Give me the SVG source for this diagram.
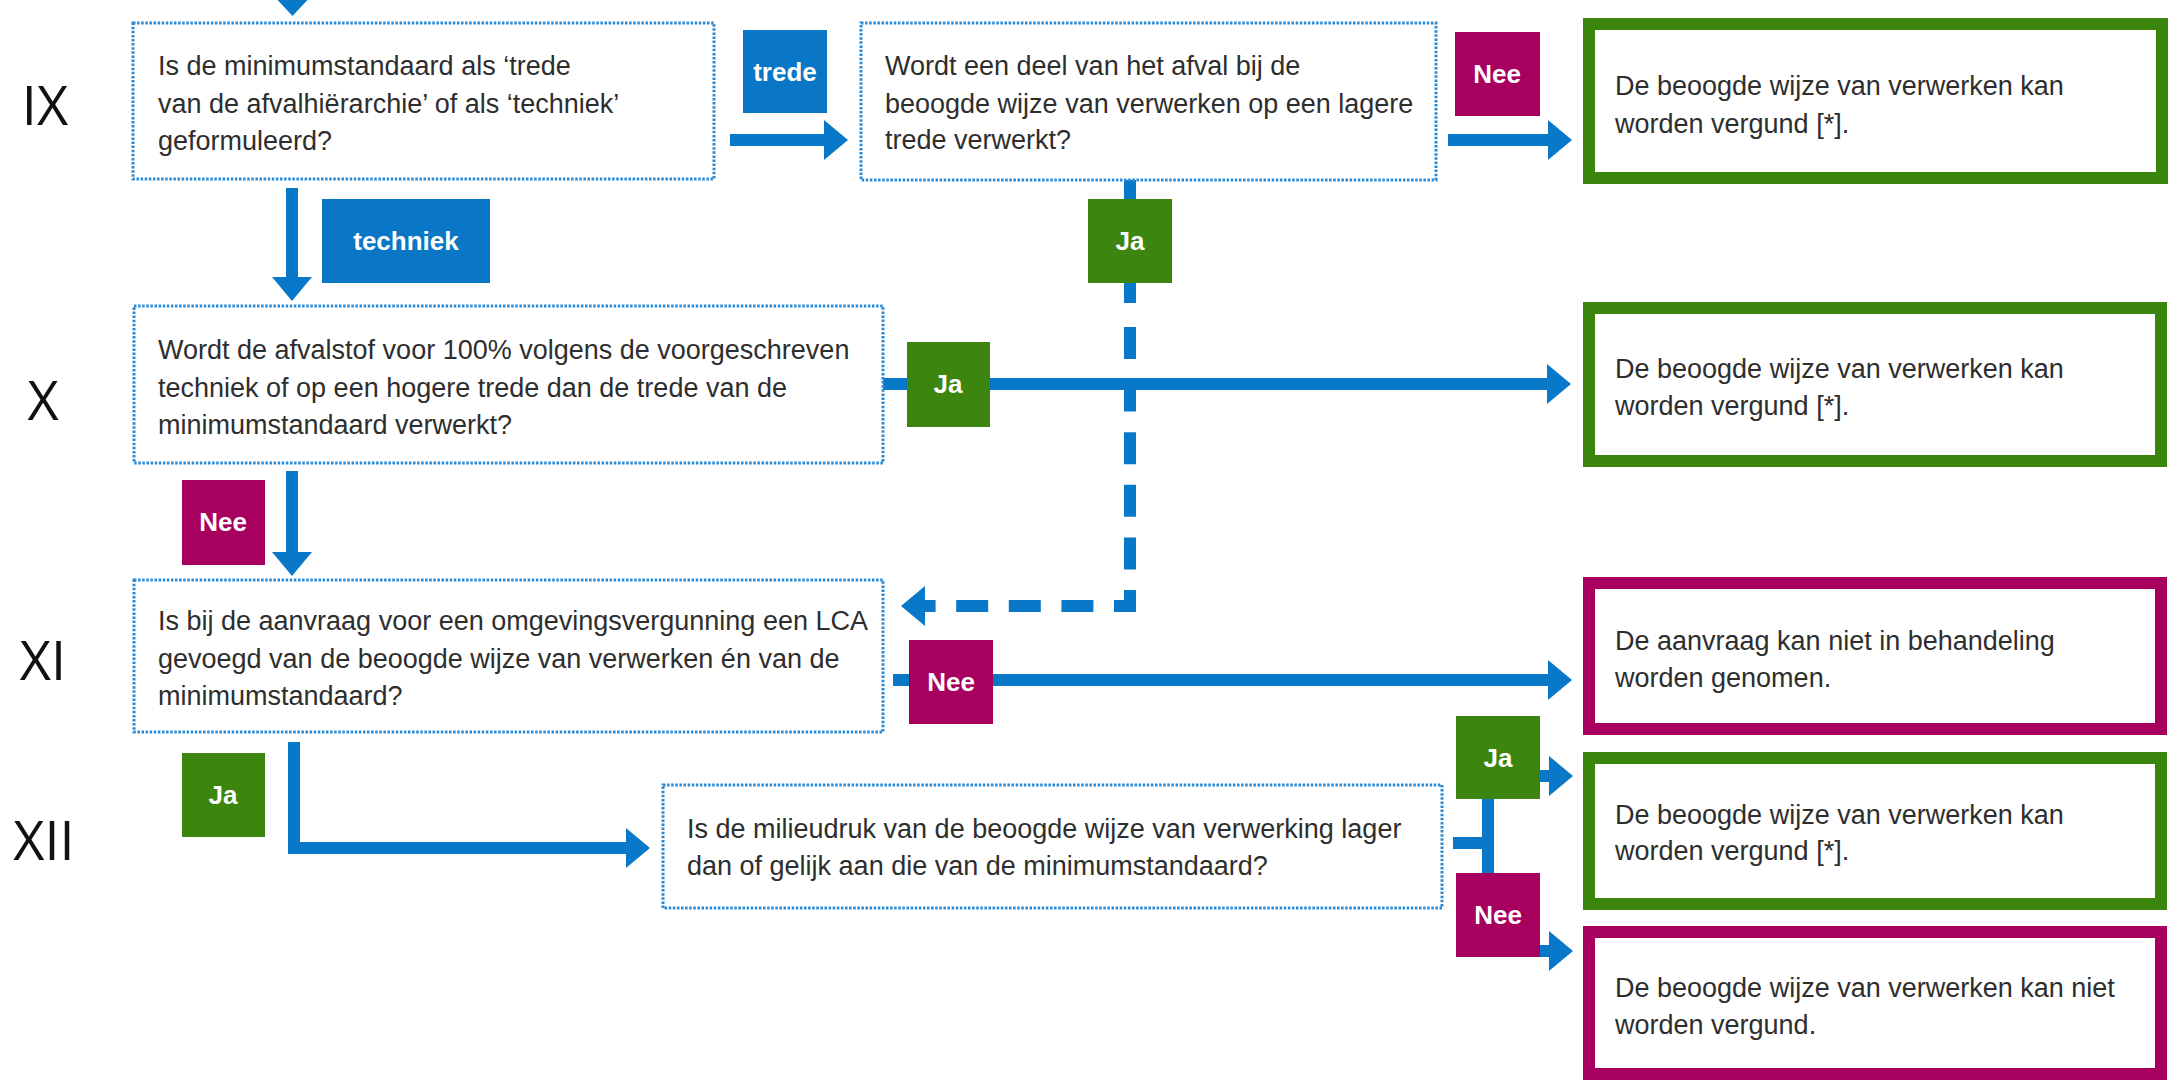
<svg xmlns="http://www.w3.org/2000/svg" width="2169" height="1081" viewBox="0 0 2169 1081">
<style>
.q{fill:#fff;stroke:#2b8ad3;stroke-width:3;stroke-dasharray:2.5 1.6}
.rg{fill:#fff;stroke:#3a860c;stroke-width:12}
.rm{fill:#fff;stroke:#a8005f;stroke-width:12}
.t{font-family:"Liberation Sans",Arial,sans-serif;font-size:27px;fill:#2e2e2e}
.rn{font-family:"Open Sans","DejaVu Sans",sans-serif;font-weight:400;font-size:54px;fill:#111;text-anchor:middle}
.ln{fill:none;stroke:#0a78c8;stroke-width:12}
.lb{font-family:"Liberation Sans",Arial,sans-serif;font-weight:bold;font-size:26px;fill:#fff;text-anchor:middle}
.bb{fill:#0a76c6}.bg{fill:#3c8610}.bm{fill:#a8005f}
</style>
<defs>
<marker id="ah" viewBox="0 0 24 40" refX="0" refY="20" markerWidth="24" markerHeight="40" markerUnits="userSpaceOnUse" orient="auto">
<path d="M0,0 L24,20 L0,40 Z" fill="#0a78c8"/>
</marker>
</defs>

<g id="roman">
<text class="rn" x="45" y="125">IX</text>
<text class="rn" x="43" y="420">X</text>
<text class="rn" x="43" y="680">XI</text>
<text class="rn" x="44" y="860">XII</text>
</g>

<g id="connectors">
<path d="M272,-6 L313,-6 L292.5,16 Z" fill="#0a78c8"/>
<path class="ln" d="M730,140 H824" marker-end="url(#ah)"/>
<path class="ln" d="M292,188 V277" marker-end="url(#ah)"/>
<path class="ln" d="M1448,140 H1548" marker-end="url(#ah)"/>
<path class="ln" d="M1130,180 V303"/>
<path class="ln" d="M1130,327 V606 H925" stroke-dasharray="32 20.6" marker-end="url(#ah)"/>
<path class="ln" d="M883,384 H1547" marker-end="url(#ah)"/>
<path class="ln" d="M292,471 V552" marker-end="url(#ah)"/>
<path class="ln" d="M893,680 H1548" marker-end="url(#ah)"/>
<path class="ln" d="M294,742 V848 H626" marker-end="url(#ah)"/>
<path class="ln" d="M1453,843 H1488"/>
<path class="ln" d="M1488,776 V951"/>
<path class="ln" d="M1488,776 H1549" marker-end="url(#ah)"/>
<path class="ln" d="M1488,951 H1549" marker-end="url(#ah)"/>
</g>

<g id="q-IX">
<rect class="q" x="133" y="23" width="581" height="156"/>
<text class="t" x="158" y="75">Is de minimumstandaard als ‘trede</text>
<text class="t" x="158" y="113">van de afvalhiërarchie’ of als ‘techniek’</text>
<text class="t" x="158" y="150">geformuleerd?</text>
</g>
<g id="q-IX-trede">
<rect class="q" x="861" y="23" width="575" height="157"/>
<text class="t" x="885" y="75">Wordt een deel van het afval bij de</text>
<text class="t" x="885" y="113">beoogde wijze van verwerken op een lagere</text>
<text class="t" x="885" y="149">trede verwerkt?</text>
</g>
<g id="q-X">
<rect class="q" x="134" y="306" width="749" height="157"/>
<text class="t" x="158" y="359">Wordt de afvalstof voor 100% volgens de voorgeschreven</text>
<text class="t" x="158" y="397">techniek of op een hogere trede dan de trede van de</text>
<text class="t" x="158" y="434">minimumstandaard verwerkt?</text>
</g>
<g id="q-XI">
<rect class="q" x="134" y="580" width="749" height="152"/>
<text class="t" x="158" y="630">Is bij de aanvraag voor een omgevingsvergunning een LCA</text>
<text class="t" x="158" y="668">gevoegd van de beoogde wijze van verwerken én van de</text>
<text class="t" x="158" y="705">minimumstandaard?</text>
</g>
<g id="q-XII">
<rect class="q" x="663" y="785" width="779" height="123"/>
<text class="t" x="687" y="838">Is de milieudruk van de beoogde wijze van verwerking lager</text>
<text class="t" x="687" y="875">dan of gelijk aan die van de minimumstandaard?</text>
</g>

<g id="r-1">
<rect class="rg" x="1589" y="24" width="573" height="154"/>
<text class="t" x="1615" y="95">De beoogde wijze van verwerken kan</text>
<text class="t" x="1615" y="133">worden vergund [*].</text>
</g>
<g id="r-2">
<rect class="rg" x="1589" y="308" width="572" height="153"/>
<text class="t" x="1615" y="378">De beoogde wijze van verwerken kan</text>
<text class="t" x="1615" y="415">worden vergund [*].</text>
</g>
<g id="r-3">
<rect class="rm" x="1589" y="583" width="572" height="146"/>
<text class="t" x="1615" y="650">De aanvraag kan niet in behandeling</text>
<text class="t" x="1615" y="687">worden genomen.</text>
</g>
<g id="r-4">
<rect class="rg" x="1589" y="758" width="572" height="146"/>
<text class="t" x="1615" y="824">De beoogde wijze van verwerken kan</text>
<text class="t" x="1615" y="860">worden vergund [*].</text>
</g>
<g id="r-5">
<rect class="rm" x="1589" y="932" width="572" height="142"/>
<text class="t" x="1615" y="997">De beoogde wijze van verwerken kan niet</text>
<text class="t" x="1615" y="1034">worden vergund.</text>
</g>

<g id="lbl-trede"><rect class="bb" x="743" y="30" width="84" height="83"/><text class="lb" x="785" y="81">trede</text></g>
<g id="lbl-techniek"><rect class="bb" x="322" y="199" width="168" height="84"/><text class="lb" x="406" y="250">techniek</text></g>
<g id="lbl-nee-1"><rect class="bm" x="1455" y="32" width="85" height="84"/><text class="lb" x="1497" y="83">Nee</text></g>
<g id="lbl-ja-1"><rect class="bg" x="1088" y="199" width="84" height="84"/><text class="lb" x="1130" y="250">Ja</text></g>
<g id="lbl-ja-2"><rect class="bg" x="907" y="342" width="83" height="85"/><text class="lb" x="948" y="393">Ja</text></g>
<g id="lbl-nee-2"><rect class="bm" x="182" y="480" width="83" height="85"/><text class="lb" x="223" y="531">Nee</text></g>
<g id="lbl-nee-3"><rect class="bm" x="909" y="640" width="84" height="84"/><text class="lb" x="951" y="691">Nee</text></g>
<g id="lbl-ja-3"><rect class="bg" x="182" y="753" width="83" height="84"/><text class="lb" x="223" y="804">Ja</text></g>
<g id="lbl-ja-4"><rect class="bg" x="1456" y="716" width="84" height="83"/><text class="lb" x="1498" y="767">Ja</text></g>
<g id="lbl-nee-4"><rect class="bm" x="1456" y="873" width="84" height="84"/><text class="lb" x="1498" y="924">Nee</text></g>
</svg>
